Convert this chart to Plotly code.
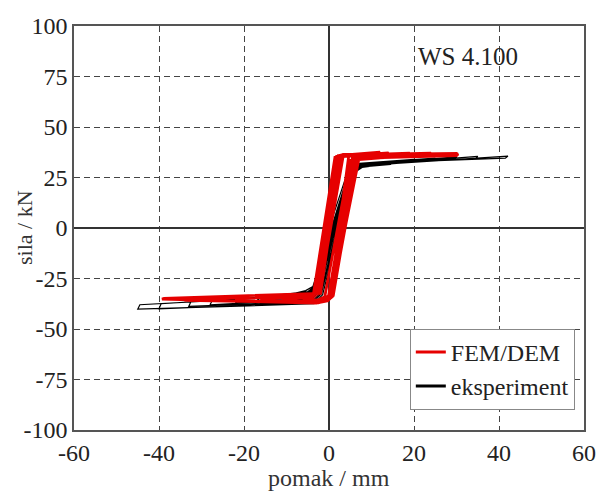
# -*- coding: utf-8 -*-
import plotly.graph_objects as go

# FEM/DEM hysteresis path (displacement mm, force kN)
fem_x = [0, 1.8, 5, 4.6, 0.3, -1.5, -6, -5.5, -3.8,
         1.4, 9, 8.5, 6.5, 1.0, -1.0, -11, -10.5, -3.5,
         1.8, 14, 13.5, 6.8, 0.8, -1.2, -16, -15.5, -3.2,
         2.2, 19, 18.5, 7.0, 0.5, -1.6, -22, -21.5, -3.0,
         2.6, 24, 23.5, 6.5, 0.2, -2.0, -28, -27.5, -2.6,
         3.0, 30.4, 30, 6.0, 0.0, -2.5, -34, -33.5, -2.3,
         3.4, 30.2, 29.8, 5.5, -0.3, -3.0, -39.3, -38.8, -2.0,
         2.8, 12, 11.5, 5.0, -1.0, -3.5]
fem_y = [0, 35.5, 36.2, 35.0, -33.0, -35.5, -35.8, -34.8, -34.5,
         35.0, 36.5, 35.3, 34.5, -33.5, -35.8, -36.0, -35.0, -34.0,
         35.4, 37.2, 35.5, 34.0, -34.0, -36.2, -36.0, -35.0, -33.5,
         35.8, 37.0, 35.8, 33.8, -34.5, -36.5, -36.2, -35.0, -33.0,
         36.0, 37.0, 35.8, 34.2, -35.0, -36.8, -36.0, -35.0, -32.8,
         36.2, 36.6, 35.8, 34.5, -35.5, -37.0, -35.8, -35.0, -32.5,
         36.4, 36.8, 36.0, 34.8, -36.0, -37.2, -35.2, -34.8, -32.4,
         36.0, 37.5, 36.2, 33.5, -34.0, -36.5]

# experiment hysteresis path
exp_x = [0, 4.5, 6.5, 10, 9.5, 6, 4.5, -3, -5, -12, -11.5, -5.5, -3.8,
         4.8, 7, 15, 14.5, 6.5, 4.8, -2.8, -4.8, -17, -16.5, -5, -3.6,
         5, 7.2, 20, 19.5, 7.0, 5, -2.5, -4.5, -22, -21.5, -5, -3.5,
         5.3, 7.5, 25, 24.5, 7.2, 5.2, -2.3, -4.2, -28, -27.5, -5.2, -3.4,
         5.5, 7.8, 30, 29.5, 7.5, 5.5, -2, -4, -33, -32.5, -5.5, -3.2,
         5.8, 8, 35, 34.5, 7.8, 5.8, -1.8, -3.8, -40, -39.5, -6, -3,
         6, 8.5, 42.1, 41.5, 8, 6, -1.5, -3.5, -45, -44.5, -6, -2.8, 1.5]
exp_y = [0, 28.5, 30.5, 31.5, 30.5, 29.5, 27, -30.0, -33.5, -35.0, -34.0, -31, -29.0,
         28.5, 31.5, 32.5, 31.5, 30.0, 27.5, -30.5, -34.0, -36.0, -35.0, -31.5, -29.2,
         28.0, 32.0, 34.0, 33.0, 30.5, 28, -31, -35, -37, -35.5, -31.5, -29.5,
         28.0, 32.0, 34.6, 33.4, 30.5, 28.5, -31.5, -35.5, -38, -36.0, -32.0, -30,
         27.5, 31.5, 35.2, 34.0, 31.0, 29, -32, -36.5, -38.8, -36.5, -32.5, -30.5,
         27, 31, 35.5, 34.3, 31.5, 29.5, -32.5, -37, -40, -37.5, -33.0, -31,
         27.5, 31, 35.6, 34.6, 32.0, 30, -33, -37.5, -40.2, -38.0, -33.5, -31.5, 0]

x_ticks = [-60, -40, -20, 0, 20, 40, 60]
y_ticks = [-100, -75, -50, -25, 0, 25, 50, 75, 100]
# plain hyphen as in the original, not the unicode minus
x_labels = ['%d' % v for v in x_ticks]
y_labels = ['%d' % v for v in y_ticks]

font = 'Liberation Serif'
red = 'rgb(230,0,0)'

fig = go.Figure()
fig.add_trace(go.Scatter(x=exp_x, y=exp_y, mode='lines', showlegend=False,
                         line=dict(color='black', width=1.2)))
fig.add_trace(go.Scatter(x=fem_x, y=fem_y, mode='lines', showlegend=False,
                         line=dict(color=red, width=2.8)))
# legend entries drawn with thicker sample lines
fig.add_trace(go.Scatter(x=[None], y=[None], mode='lines', name='FEM/DEM',
                         line=dict(color=red, width=3)))
fig.add_trace(go.Scatter(x=[None], y=[None], mode='lines', name='eksperiment',
                         line=dict(color='black', width=3)))

axis_style = dict(showline=True, mirror=True, linecolor='#555', linewidth=1.5,
                  showgrid=True, gridcolor='#444', gridwidth=1, griddash='6px,4px',
                  zeroline=True, zerolinecolor='#333', zerolinewidth=1.5,
                  automargin=False, ticks='',
                  tickfont=dict(family=font, size=24, color='#222'))

fig.update_xaxes(range=[-60, 60], tickvals=x_ticks, ticktext=x_labels, **axis_style)
fig.update_yaxes(range=[-100, 100], tickvals=y_ticks, ticktext=y_labels, **axis_style)

fig.update_layout(
    width=598, height=495,
    margin=dict(l=74, r=14, t=26, b=65),
    paper_bgcolor='white', plot_bgcolor='white',
    font=dict(family=font, size=24, color='#222'),
    legend=dict(x=0.982, y=0.05, xanchor='right', yanchor='bottom',
                bgcolor='white', bordercolor='#888', borderwidth=1,
                itemwidth=30, tracegroupgap=0,
                font=dict(family=font, size=24, color='#222')),
    annotations=[
        dict(text='WS 4.100', x=32.7, y=85, xref='x', yref='y', showarrow=False,
             font=dict(family=font, size=25, color='#222')),
        dict(text='sila / kN', x=-0.098, y=0.5, xref='paper', yref='paper',
             xanchor='center', yanchor='middle',
             textangle=-90, showarrow=False,
             font=dict(family=font, size=22, color='#333')),
        dict(text='pomak / mm', x=0.5, y=-0.119, xref='paper', yref='paper',
             xanchor='center', yanchor='middle', showarrow=False,
             font=dict(family=font, size=24, color='#333')),
    ],
)

# drop the default page margin so the figure sits at the window's corner
fig.write_html('out.html', config={'displayModeBar': False},
               post_script="document.body.style.margin='0';"
                           "document.body.style.overflow='hidden';")
